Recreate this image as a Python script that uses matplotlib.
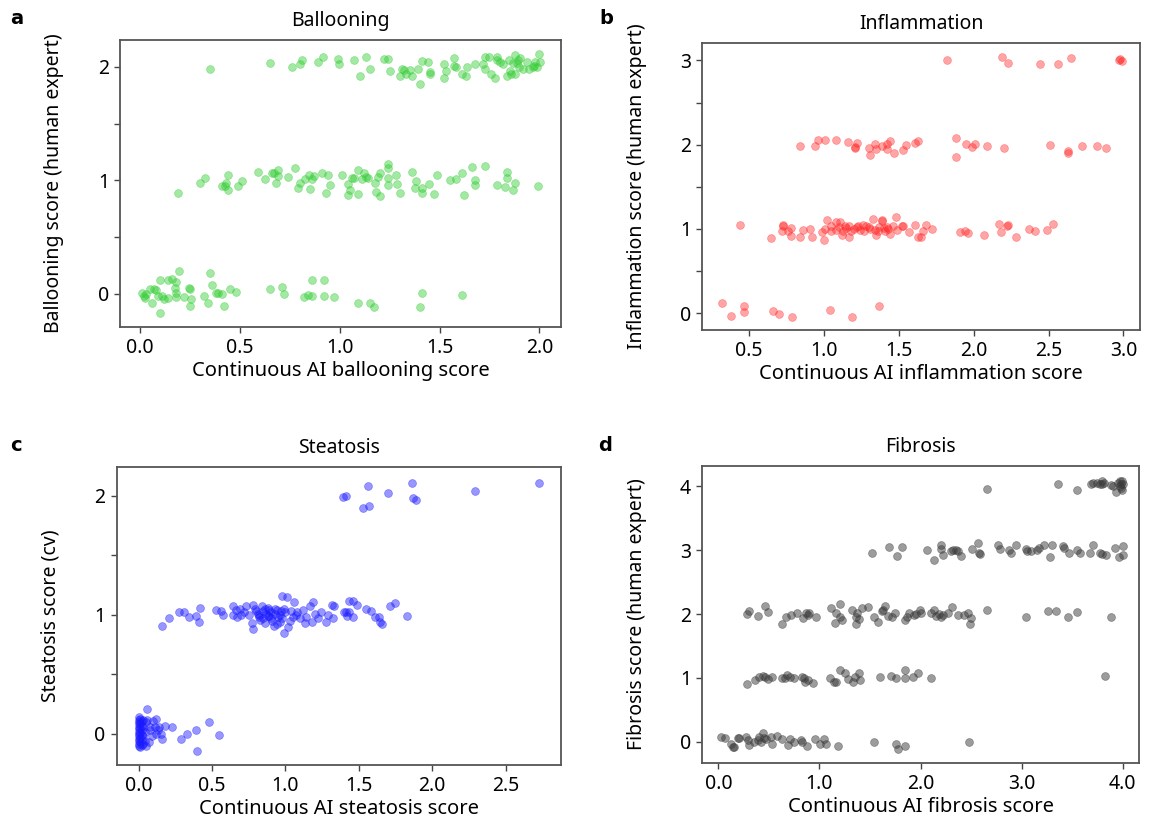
import matplotlib
matplotlib.use("Agg")
import matplotlib.pyplot as plt

plt.rcParams['font.family'] = ['Noto Sans', 'DejaVu Sans']

# (continuous AI score, human grade + jitter) per grade
balloon_0 = [(0.01, 0.01), (0.02, -0.02), (0.03, 0.0), (0.025, -0.04), (0.05, 0.04), (0.06, -0.08), (0.07, 0.04),
             (0.08, 0.03), (0.09, -0.02), (0.10, 0.12), (0.10, -0.17), (0.11, -0.02), (0.12, -0.05), (0.14, -0.04),
             (0.14, 0.12), (0.16, 0.13), (0.175, 0.05), (0.18, 0.10), (0.18, -0.03), (0.195, 0.20), (0.18, 0.01),
             (0.22, -0.03), (0.245, 0.05), (0.25, 0.04), (0.255, -0.05), (0.25, -0.11), (0.32, -0.02), (0.34, -0.08),
             (0.35, 0.18), (0.36, 0.08), (0.38, 0.01), (0.39, 0.01), (0.41, 0.0), (0.42, -0.11), (0.45, 0.04),
             (0.48, 0.02), (0.65, 0.04), (0.71, 0.06), (0.72, 0.0), (0.82, -0.03), (0.84, -0.01), (0.86, 0.12),
             (0.86, -0.02), (0.92, 0.12), (0.92, -0.02), (0.97, -0.03), (1.09, -0.08), (1.15, -0.08), (1.17, -0.12),
             (1.40, -0.12), (1.41, 0.01), (1.61, -0.01)]
balloon_1 = [(0.19, 0.89), (0.30, 0.98), (0.325, 1.02), (0.41, 0.95), (0.425, 0.95), (0.43, 0.98), (0.44, 1.05),
             (0.44, 0.91), (0.49, 0.95), (0.51, 0.99), (0.59, 1.07), (0.625, 1.01), (0.66, 1.06), (0.67, 1.06),
             (0.68, 0.98), (0.69, 1.09), (0.69, 1.04), (0.74, 1.03), (0.775, 1.11), (0.79, 0.93), (0.80, 0.98),
             (0.825, 1.01), (0.845, 1.05), (0.85, 0.92), (0.86, 1.01), (0.87, 1.04), (0.91, 1.06), (0.94, 1.05),
             (0.95, 0.96), (0.93, 0.89), (1.01, 1.05), (1.04, 0.97), (1.05, 0.91), (1.04, 0.87), (1.06, 1.02),
             (1.07, 1.02), (1.09, 1.09), (1.09, 0.88), (1.11, 1.01), (1.12, 1.06), (1.13, 1.03), (1.14, 1.02),
             (1.175, 0.98), (1.18, 0.90), (1.19, 1.03), (1.20, 0.86), (1.20, 1.06), (1.24, 1.14), (1.24, 1.11),
             (1.24, 1.02), (1.24, 0.96), (1.28, 1.05), (1.285, 0.97), (1.30, 0.89), (1.36, 1.07), (1.38, 0.99),
             (1.375, 0.93), (1.41, 0.93), (1.41, 0.89), (1.445, 0.97), (1.47, 0.88), (1.485, 1.05), (1.55, 1.00),
             (1.58, 1.01), (1.61, 1.06), (1.62, 0.87), (1.665, 1.12), (1.68, 1.00), (1.68, 0.96), (1.73, 1.13),
             (1.79, 0.96), (1.83, 0.94), (1.84, 1.07), (1.84, 1.02), (1.87, 0.91), (1.88, 0.98), (1.995, 0.95)]
balloon_2 = [(0.35, 1.98), (0.65, 2.03), (0.76, 2.00), (0.80, 2.02), (0.81, 2.06), (0.89, 2.04), (0.915, 2.09),
             (0.99, 2.07), (0.995, 2.02), (1.07, 2.06), (1.10, 1.92), (1.13, 2.09), (1.15, 1.98), (1.22, 2.07),
             (1.24, 2.07), (1.25, 1.96), (1.30, 1.92), (1.31, 1.98), (1.32, 1.97), (1.33, 1.94), (1.35, 1.97),
             (1.36, 1.92), (1.39, 1.98), (1.40, 1.85), (1.41, 2.05), (1.44, 2.04), (1.45, 1.95), (1.45, 1.94),
             (1.52, 2.02), (1.53, 1.96), (1.52, 1.90), (1.57, 2.01), (1.57, 2.08), (1.58, 2.00), (1.61, 1.94),
             (1.63, 1.92), (1.64, 2.00), (1.68, 2.02), (1.72, 2.02), (1.73, 2.09), (1.73, 1.98), (1.75, 2.09),
             (1.76, 1.94), (1.78, 1.90), (1.79, 2.09), (1.79, 2.06), (1.805, 2.04), (1.82, 2.02), (1.84, 1.92),
             (1.85, 2.06), (1.855, 1.96), (1.86, 1.94), (1.87, 2.03), (1.88, 2.10), (1.88, 1.94), (1.89, 2.03),
             (1.895, 2.06), (1.90, 2.00), (1.905, 2.08), (1.92, 1.98), (1.94, 2.04), (1.95, 1.98), (1.97, 2.00),
             (1.975, 2.01), (1.98, 2.04), (1.99, 2.00), (2.0, 2.11), (2.005, 2.04)]

inflam_0 = [(0.32, 0.12), (0.38, -0.03), (0.47, 0.09), (0.47, 0.01), (0.66, 0.02), (0.70, -0.01), (0.79, -0.04),
            (1.04, 0.04), (1.19, -0.05), (1.37, 0.08)]
inflam_1 = [(0.44, 1.05), (0.65, 0.89), (0.73, 1.05), (0.73, 1.04), (0.72, 0.97), (0.76, 0.97), (0.78, 1.01),
            (0.78, 0.92), (0.84, 0.91), (0.86, 0.99), (0.91, 1.00), (0.92, 0.91), (0.99, 0.96), (1.00, 0.87),
            (1.01, 1.00), (1.02, 1.11), (1.05, 1.03), (1.05, 0.98), (1.08, 1.08), (1.11, 1.08), (1.12, 0.93),
            (1.14, 1.03), (1.17, 0.91), (1.17, 1.04), (1.18, 0.97), (1.22, 1.02), (1.24, 0.99), (1.26, 1.05),
            (1.28, 1.04), (1.31, 1.00), (1.33, 1.12), (1.34, 0.99), (1.35, 0.93), (1.37, 1.02), (1.39, 1.11),
            (1.41, 0.97), (1.42, 1.02), (1.44, 0.94), (1.46, 1.04), (1.48, 1.14), (1.49, 0.99), (1.52, 1.03),
            (1.53, 1.03), (1.57, 0.96), (1.61, 1.05), (1.63, 0.90), (1.65, 0.90), (1.66, 0.98), (1.68, 1.05),
            (1.72, 1.00), (1.08, 0.99), (1.10, 1.02), (1.13, 0.98), (1.15, 1.01), (1.20, 1.00), (1.23, 1.03),
            (1.27, 0.98), (1.30, 1.02), (1.36, 0.98), (1.40, 1.01), (1.43, 1.00), (1.39, 1.09), (1.91, 0.96),
            (1.94, 0.98), (1.96, 0.95), (2.07, 0.93), (2.17, 1.06), (2.18, 0.96), (2.22, 1.04), (2.23, 1.05),
            (2.28, 0.90), (2.37, 1.00), (2.41, 0.98), (2.49, 0.99), (2.53, 1.06)]
inflam_2 = [(0.84, 1.98), (0.94, 1.99), (0.96, 2.06), (1.01, 2.06), (1.08, 2.06), (1.16, 2.03), (1.21, 1.97),
            (1.21, 1.96), (1.22, 2.02), (1.30, 1.96), (1.31, 1.88), (1.34, 2.01), (1.35, 1.95), (1.39, 1.99),
            (1.42, 1.95), (1.42, 2.01), (1.44, 2.05), (1.47, 1.90), (1.53, 1.94), (1.55, 2.00), (1.61, 2.02),
            (1.63, 2.04), (1.88, 2.08), (1.88, 1.86), (1.95, 2.01), (1.99, 1.97), (2.01, 2.01), (2.09, 1.99),
            (2.20, 1.96), (2.51, 2.00), (2.63, 1.92), (2.63, 1.90), (2.72, 1.99), (2.82, 1.98), (2.88, 1.96)]
inflam_3 = [(1.82, 3.01), (2.19, 3.04), (2.23, 2.97), (2.44, 2.96), (2.56, 2.96), (2.65, 3.03), (2.97, 3.01),
            (2.98, 3.02), (2.99, 2.99)]

steat_0 = [(0.0, 0.14), (0.0, 0.12), (0.0, 0.10), (0.0, 0.08), (0.0, 0.06), (0.0, 0.04), (0.0, 0.02), (0.0, 0.0),
           (0.0, -0.02), (0.0, -0.04), (0.0, -0.06), (0.0, -0.08), (0.0, -0.10), (0.01, 0.13), (0.01, 0.09),
           (0.01, 0.05), (0.01, 0.01), (0.01, -0.03), (0.01, -0.07), (0.01, -0.11), (0.02, 0.11), (0.02, 0.07),
           (0.02, 0.03), (0.02, -0.01), (0.02, -0.05), (0.02, -0.09), (0.03, 0.12), (0.03, 0.06), (0.03, -0.02),
           (0.03, -0.08), (0.04, 0.02), (0.04, -0.06), (0.05, -0.10), (0.05, 0.10), (0.06, 0.21), (0.06, 0.12),
           (0.075, 0.06), (0.09, -0.02), (0.12, 0.13), (0.11, 0.06), (0.12, 0.0), (0.14, 0.06), (0.155, 0.0),
           (0.18, 0.07), (0.16, -0.04), (0.23, 0.06), (0.29, -0.04), (0.33, 0.0), (0.39, 0.03), (0.40, -0.14),
           (0.48, 0.10), (0.55, -0.01), (0.07, -0.07), (0.08, 0.03), (0.10, 0.11), (0.13, 0.03)]
steat_1 = [(0.16, 0.91), (0.21, 0.97), (0.275, 1.02), (0.31, 1.02), (0.34, 0.98), (0.39, 0.99), (0.41, 0.94),
           (0.42, 1.06), (0.53, 1.04), (0.56, 1.03), (0.575, 1.00), (0.64, 1.07), (0.64, 1.00), (0.67, 0.98),
           (0.69, 1.05), (0.70, 1.00), (0.73, 1.07), (0.75, 1.00), (0.775, 0.93), (0.78, 0.88), (0.78, 1.08),
           (0.80, 1.03), (0.82, 0.98), (0.84, 1.07), (0.85, 1.03), (0.86, 0.93), (0.87, 1.01), (0.88, 1.06),
           (0.89, 0.99), (0.905, 0.97), (0.92, 0.91), (0.93, 1.01), (0.94, 1.04), (0.95, 0.98), (0.96, 0.94),
           (0.97, 1.03), (0.98, 1.16), (0.99, 0.85), (1.01, 1.15), (1.02, 0.90), (1.03, 0.95), (1.04, 1.03),
           (1.06, 1.11), (1.075, 1.00), (1.10, 0.97), (1.12, 1.04), (1.13, 0.93), (1.14, 0.98), (1.165, 1.07),
           (1.18, 0.94), (1.19, 1.11), (1.20, 1.01), (1.22, 0.97), (1.245, 1.02), (1.275, 0.94), (1.29, 1.00),
           (1.32, 1.08), (1.325, 0.97), (1.415, 1.02), (1.43, 1.12), (0.79, 1.05), (0.81, 1.01), (0.83, 0.96),
           (0.86, 1.05), (0.88, 0.99), (0.90, 1.02), (0.91, 0.95), (0.93, 1.05), (0.96, 1.00), (0.98, 0.97),
           (1.00, 1.02), (0.82, 1.00), (0.85, 0.97), (0.89, 1.04), (0.94, 0.92), (0.99, 1.05), (1.05, 0.98),
           (1.08, 1.02), (0.72, 1.02), (0.66, 1.04), (1.33, 1.07), (1.40, 1.02), (1.42, 0.99), (1.43, 1.02),
           (1.46, 1.12), (1.46, 0.98), (1.49, 1.08), (1.55, 1.05), (1.58, 1.03), (1.61, 0.98), (1.64, 0.98),
           (1.645, 0.94), (1.655, 0.92), (1.71, 1.07), (1.75, 1.10), (1.83, 0.99)]
steat_2 = [(1.39, 1.99), (1.41, 2.00), (1.53, 1.90), (1.57, 1.91), (1.56, 2.08), (1.70, 2.02), (1.86, 2.11),
           (1.87, 1.98), (1.89, 1.96), (2.29, 2.04), (2.73, 2.11)]

fib_0 = [(0.03, 0.08), (0.07, 0.05), (0.12, -0.03), (0.14, -0.09), (0.15, -0.08), (0.19, 0.05), (0.20, 0.05),
         (0.27, 0.07), (0.29, 0.02), (0.30, -0.06), (0.35, 0.0), (0.39, 0.03), (0.40, 0.08), (0.42, 0.0),
         (0.44, 0.13), (0.45, 0.05), (0.47, 0.04), (0.53, -0.04), (0.52, 0.08), (0.58, 0.09), (0.63, 0.04),
         (0.69, -0.06), (0.71, 0.04), (0.75, 0.0), (0.82, 0.03), (0.83, -0.01), (0.88, -0.07), (0.96, 0.04),
         (1.01, -0.04), (1.04, 0.04), (1.06, -0.03), (1.18, -0.07), (1.54, 0.0), (1.76, -0.04), (1.78, -0.11),
         (1.85, -0.07), (2.48, -0.01)]
fib_1 = [(0.28, 0.90), (0.36, 0.96), (0.40, 1.02), (0.44, 1.03), (0.46, 1.02), (0.49, 0.98), (0.53, 1.02),
         (0.63, 0.99), (0.66, 0.99), (0.68, 1.05), (0.71, 1.01), (0.75, 0.99), (0.83, 1.02), (0.85, 0.99),
         (0.86, 0.94), (0.89, 0.97), (0.94, 0.92), (1.10, 1.00), (1.14, 0.94), (1.16, 0.94), (1.20, 1.12),
         (1.25, 1.07), (1.28, 0.98), (1.33, 0.93), (1.35, 1.01), (1.39, 1.07), (1.40, 0.97), (1.60, 1.02),
         (1.71, 1.03), (1.76, 0.99), (1.85, 1.13), (1.85, 0.99), (1.93, 1.02), (1.97, 1.08), (2.10, 1.00),
         (3.83, 1.03)]
fib_2 = [(0.28, 2.00), (0.30, 2.05), (0.39, 1.97), (0.46, 2.12), (0.49, 2.03), (0.63, 1.85), (0.67, 1.96),
         (0.72, 1.99), (0.78, 2.01), (0.84, 1.93), (0.87, 2.01), (0.89, 1.99), (0.90, 2.01), (0.97, 1.96),
         (1.11, 2.09), (1.16, 2.02), (1.15, 1.86), (1.20, 2.16), (1.20, 1.95), (1.22, 1.90), (1.32, 2.07),
         (1.36, 1.95), (1.36, 1.85), (1.37, 2.01), (1.39, 1.92), (1.42, 2.09), (1.48, 2.11), (1.54, 1.96),
         (1.58, 1.88), (1.62, 2.04), (1.63, 2.07), (1.65, 2.12), (1.68, 1.97), (1.72, 1.96), (1.75, 2.02),
         (1.85, 1.90), (1.87, 1.95), (1.89, 2.02), (1.94, 1.99), (1.96, 2.00), (1.99, 2.07), (2.00, 2.01),
         (2.10, 2.02), (2.13, 2.07), (2.15, 1.97), (2.18, 2.00), (2.20, 1.96), (2.22, 1.99), (2.27, 2.01),
         (2.31, 2.11), (2.37, 1.99), (2.43, 1.99), (2.47, 2.02), (2.50, 1.93), (2.49, 1.84), (2.66, 2.07),
         (3.04, 1.95), (3.26, 2.05), (3.34, 2.05), (3.46, 1.96), (3.55, 2.03), (3.88, 1.96)]
fib_3 = [(1.52, 2.95), (1.69, 3.05), (1.77, 2.91), (1.82, 3.05), (2.06, 3.01), (2.13, 2.85), (2.20, 3.08),
         (2.20, 3.02), (2.22, 2.92), (2.30, 2.98), (2.32, 3.00), (2.35, 3.01), (2.37, 2.98), (2.40, 2.91),
         (2.51, 3.02), (2.57, 3.12), (2.58, 2.96), (2.59, 2.94), (2.77, 3.08), (2.79, 3.02), (2.88, 3.01),
         (2.90, 2.96), (2.94, 3.08), (3.04, 3.02), (3.05, 2.98), (3.09, 2.98), (3.15, 3.01), (3.17, 3.03),
         (3.22, 3.08), (3.28, 2.90), (3.30, 3.08), (3.41, 3.07), (3.42, 3.03), (3.47, 2.96), (3.55, 3.00),
         (3.58, 2.95), (3.68, 2.95), (3.71, 3.08), (3.78, 2.95), (3.80, 2.94), (3.84, 2.93), (3.92, 3.03),
         (3.96, 2.90), (4.00, 2.93), (4.00, 3.07)]
fib_4 = [(2.66, 3.96), (3.36, 4.03), (3.55, 3.94), (3.69, 4.04), (3.71, 4.05), (3.75, 4.06), (3.78, 4.04),
         (3.80, 4.09), (3.80, 4.03), (3.82, 4.06), (3.88, 4.02), (3.90, 4.01), (3.93, 3.91), (3.95, 4.06),
         (3.97, 4.08), (3.97, 4.00), (3.98, 4.04), (3.99, 4.09), (3.99, 3.95), (4.00, 4.03), (3.98, 3.97)]

panels = [
    dict(pos=[0.104, 0.603, 0.382, 0.349], data=balloon_0 + balloon_1 + balloon_2, color='#33cc33', alpha=0.45,
         title='Ballooning', xlabel='Continuous AI ballooning score', ylabel='Ballooning score (human expert)',
         xlim=(-0.10, 2.11), ylim=(-0.29, 2.24), xticks=[0.0, 0.5, 1.0, 1.5, 2.0],
         yticks=[0, 0.5, 1, 1.5, 2], letter='a', lpos=(0.009, 0.978)),
    dict(pos=[0.608, 0.599, 0.379, 0.349], data=inflam_0 + inflam_1 + inflam_2 + inflam_3, color='#ff2020',
         alpha=0.4, title='Inflammation', xlabel='Continuous AI inflammation score',
         ylabel='Inflammation score (human expert)', xlim=(0.19, 3.11), ylim=(-0.20, 3.21),
         xticks=[0.5, 1.0, 1.5, 2.0, 2.5, 3.0], yticks=[0, 0.5, 1, 1.5, 2, 2.5, 3], letter='b',
         lpos=(0.519, 0.978)),
    dict(pos=[0.101, 0.0705, 0.385, 0.362], data=steat_0 + steat_1 + steat_2, color='#1a1aff', alpha=0.45,
         title='Steatosis', xlabel='Continuous AI steatosis score', ylabel='Steatosis score (cv)',
         xlim=(-0.15, 2.88), ylim=(-0.26, 2.24), xticks=[0.0, 0.5, 1.0, 1.5, 2.0, 2.5],
         yticks=[0, 0.5, 1, 1.5, 2], letter='c', lpos=(0.009, 0.459)),
    dict(pos=[0.608, 0.0733, 0.378, 0.3605], data=fib_0 + fib_1 + fib_2 + fib_3 + fib_4, color='#3a3a3a',
         alpha=0.5, title='Fibrosis', xlabel='Continuous AI fibrosis score', ylabel='Fibrosis score (human expert)',
         xlim=(-0.16, 4.16), ylim=(-0.33, 4.32), xticks=[0.0, 1.0, 2.0, 3.0, 4.0],
         yticks=[0, 1, 2, 3, 4], letter='d', lpos=(0.518, 0.459)),
]

fig = plt.figure(figsize=(11.55, 8.23), dpi=100)

for p in panels:
    ax = fig.add_axes(p['pos'])
    xs = [d[0] for d in p['data']]
    ys = [d[1] for d in p['data']]
    ax.scatter(xs, ys, s=32, color=p['color'], alpha=p['alpha'], edgecolors=p['color'], linewidths=0.5)
    ax.set_xlim(*p['xlim'])
    ax.set_ylim(*p['ylim'])
    ax.set_xticks(p['xticks'])
    ax.set_xticklabels(['%.1f' % t for t in p['xticks']])
    ax.set_yticks(p['yticks'])
    ax.set_yticklabels([str(int(t)) if t == int(t) else '' for t in p['yticks']])
    ax.tick_params(labelsize=14, length=4, width=1, color='#444444', pad=4)
    for sp in ax.spines.values():
        sp.set_color('#555555')
        sp.set_linewidth(1.3)
    ax.set_title(p['title'], fontsize=14, pad=10)
    ax.set_xlabel(p['xlabel'], fontsize=14.5, labelpad=2)
    ax.set_ylabel(p['ylabel'], fontsize=14, labelpad=24)
    fig.text(p['lpos'][0], p['lpos'][1], p['letter'], fontsize=14, fontweight='bold', va='center',
             family=['DejaVu Sans'])

fig.savefig('out.png', dpi=100)
